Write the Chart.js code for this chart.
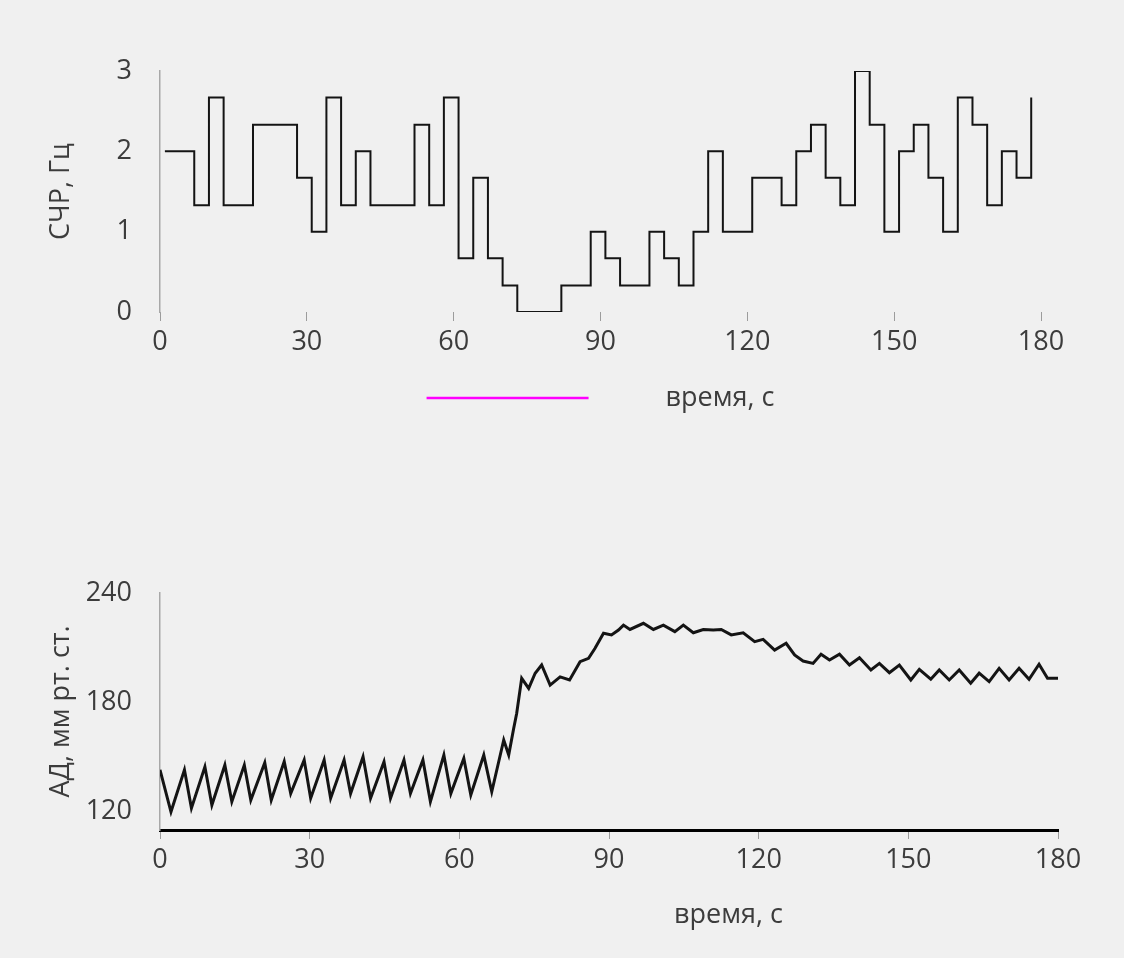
<!DOCTYPE html>
<html lang="ru">
<head>
<meta charset="utf-8">
<title>СЧР и АД</title>
<script src="https://cdn.jsdelivr.net/npm/chart.js@4.4.1/dist/chart.umd.min.js"></script>
<style>
  html, body { margin: 0; padding: 0; background: #f0f0f0; }
  body { width: 1124px; height: 958px; position: relative; overflow: hidden; }
  .panel { position: absolute; left: 0; }
  #topPanel { top: 0; }
  #bottomPanel { top: 480px; }
</style>
</head>
<body>
<div class="panel" id="topPanel"><canvas id="freqChart" width="1124" height="440"></canvas></div>
<div class="panel" id="bottomPanel"><canvas id="bpChart" width="1124" height="478"></canvas></div>
<script>
// axis ticks
const timeTicks = [0, 30, 60, 90, 120, 150, 180];
const freqTicks = [0, 1, 2, 3];
const bpTicks = [120, 180, 240];

// top panel: step series, start of each 3 s window (s) and its value (Hz)
const freqTime = [
    1, 4, 7, 10, 13, 16, 19, 22, 25, 28,
    31, 34, 37, 40, 43, 46, 49, 52, 55, 58,
    61, 64, 67, 70, 73, 76, 79, 82, 85, 88,
    91, 94, 97, 100, 103, 106, 109, 112, 115, 118,
    121, 124, 127, 130, 133, 136, 139, 142, 145, 148,
    151, 154, 157, 160, 163, 166, 169, 172, 175, 178
];
const freqHz = [
    2.00, 2.00, 1.33, 2.67, 1.33, 1.33, 2.33, 2.33, 2.33, 1.67,
    1.00, 2.67, 1.33, 2.00, 1.33, 1.33, 1.33, 2.33, 1.33, 2.67,
    0.67, 1.67, 0.67, 0.33, 0.00, 0.00, 0.00, 0.33, 0.33, 1.00,
    0.67, 0.33, 0.33, 1.00, 0.67, 0.33, 1.00, 2.00, 1.00, 1.00,
    1.67, 1.67, 1.33, 2.00, 2.33, 1.67, 1.33, 3.00, 2.33, 1.00,
    2.00, 2.33, 1.67, 1.00, 2.67, 2.33, 1.33, 2.00, 1.67, 2.67
];

// bottom panel: blood pressure trace (s, mm Hg)
const bpTime = [
    0, 2.2, 4.9, 6.3, 9.0, 10.4, 13.0, 14.4, 16.9, 18.2,
    21.0, 22.3, 24.9, 26.2, 28.9, 30.2, 32.9, 34.2, 36.9, 38.2,
    40.7, 42.2, 44.9, 46.2, 48.9, 50.2, 52.7, 54.2, 56.9, 58.3,
    60.9, 62.3, 64.9, 66.5, 68.9, 69.9, 70.9, 71.5, 72.5, 73.9,
    75.2, 76.5, 78.2, 80.2, 82.1, 84.2, 85.9, 87.2, 88.9, 90.5,
    91.9, 92.9, 94.2, 96.9, 98.9, 100.9, 103.2, 104.9, 106.9, 108.9,
    110.9, 112.5, 114.5, 116.9, 119.2, 120.9, 123.2, 125.5, 127.2, 128.9,
    130.9, 132.5, 134.2, 136.2, 138.2, 140.2, 142.5, 144.2, 146.2, 148.2,
    150.5, 152.2, 154.5, 156.2, 158.2, 160.2, 162.5, 164.2, 166.2, 168.2,
    170.2, 172.2, 174.2, 176.2, 177.9, 180
];
const bpValue = [
    143, 120, 143, 122, 144.7, 123.7, 145.6, 125.5, 145.6, 126.4,
    146.9, 126.4, 147.5, 130, 148.4, 127.4, 148.4, 127.4, 148.4, 130,
    150.2, 127.4, 147.5, 127.4, 148.4, 130, 148.4, 125.5, 151.1, 130,
    149.3, 129.2, 151.1, 131, 159.4, 151.1, 165.8, 174, 193.2, 187.7,
    196, 200.5, 189.5, 194, 192.3, 202.3, 204.2, 209.7, 217.9, 217,
    219.7, 222.4, 220, 223.4, 220, 222.4, 218.8, 222.4, 218.2, 220,
    219.7, 220, 217, 218.2, 213.3, 214.6, 208.7, 212.4, 206, 202.7,
    201.4, 206.4, 203.2, 206.4, 200.5, 204.5, 197.8, 201.4, 196.3, 200.5,
    192.3, 198.1, 192.7, 197.8, 192.3, 197.8, 190.5, 196, 191.4, 198.7,
    192.3, 198.7, 192.7, 200.9, 193.2, 193.2
];

const FONT_FAMILY = "'Open Sans', sans-serif";
const FONT_SIZE = 27;
const TEXT_COLOR = '#3c3c3c';

Chart.defaults.font.family = FONT_FAMILY;
Chart.defaults.font.size = FONT_SIZE;
Chart.defaults.color = TEXT_COLOR;

// axis caption row under the plot: optional coloured key line, then the text
const captionRow = {
    id: 'captionRow',
    afterDraw(chart, args, opts) {
        const { ctx, chartArea } = chart;
        ctx.save();
        ctx.font = FONT_SIZE + 'px ' + FONT_FAMILY;
        const textW = ctx.measureText(opts.text).width;
        const total = opts.lineLength + opts.gap + textW;
        const x0 = (chartArea.left + chartArea.right) / 2 - total / 2;
        const y = chartArea.bottom + opts.offset;
        if (opts.lineColor) {
            ctx.strokeStyle = opts.lineColor;
            ctx.lineWidth = 2.5;
            ctx.beginPath();
            ctx.moveTo(x0, y);
            ctx.lineTo(x0 + opts.lineLength, y);
            ctx.stroke();
        }
        ctx.fillStyle = TEXT_COLOR;
        ctx.textAlign = 'left';
        ctx.textBaseline = 'middle';
        ctx.fillText(opts.text, x0 + opts.lineLength + opts.gap, y);
        ctx.restore();
    }
};

function timeAxis(borderOpts) {
    return {
        type: 'linear',
        min: 0,
        max: 180,
        afterBuildTicks: axis => { axis.ticks = timeTicks.map(v => ({ value: v })); },
        afterFit: axis => { axis.height = 128; },
        border: borderOpts,
        grid: { drawOnChartArea: false, drawTicks: true, tickLength: 9, color: '#9c9c9c' },
        ticks: { padding: 5, maxRotation: 0 }
    };
}

function valueAxis(min, max, tickList, label) {
    return {
        type: 'linear',
        min: min,
        max: max,
        afterBuildTicks: axis => { axis.ticks = tickList.map(v => ({ value: v })); },
        afterFit: axis => { axis.width = 160; },
        border: { color: '#a8a8a8', width: 1.5 },
        grid: { display: false },
        ticks: { padding: 20 },
        title: { display: true, text: label, padding: { top: 45, bottom: 0 } }
    };
}

new Chart(document.getElementById('freqChart'), {
    type: 'line',
    data: {
        datasets: [{
            label: 'СЧР',
            data: freqTime.map((t, i) => ({ x: t, y: freqHz[i] })),
            stepped: true,
            borderColor: '#141414',
            borderWidth: 2,
            pointRadius: 0,
            fill: false
        }]
    },
    options: {
        responsive: false,
        animation: false,
        layout: { padding: { top: 71, right: 83, bottom: 0, left: 0 } },
        plugins: {
            legend: { display: false },
            tooltip: { enabled: false },
            captionRow: { text: 'время, с', lineColor: '#ff00ff', lineLength: 162, gap: 77, offset: 86 }
        },
        scales: {
            x: timeAxis({ display: false }),
            y: valueAxis(0, 3, freqTicks, 'СЧР, Гц')
        }
    },
    plugins: [captionRow]
});

new Chart(document.getElementById('bpChart'), {
    type: 'line',
    data: {
        datasets: [{
            label: 'АД',
            data: bpTime.map((t, i) => ({ x: t, y: bpValue[i] })),
            borderColor: '#141414',
            borderWidth: 3,
            tension: 0,
            pointRadius: 0,
            fill: false
        }]
    },
    options: {
        responsive: false,
        animation: false,
        layout: { padding: { top: 113, right: 66, bottom: 0, left: 0 } },
        plugins: {
            legend: { display: false },
            tooltip: { enabled: false },
            captionRow: { text: 'время, с', lineColor: null, lineLength: 162, gap: 77, offset: 85 }
        },
        scales: {
            x: timeAxis({ color: '#000000', width: 3 }),
            y: valueAxis(110, 240, bpTicks, 'АД, мм рт. ст.')
        }
    },
    plugins: [captionRow]
});
</script>
</body>
</html>
